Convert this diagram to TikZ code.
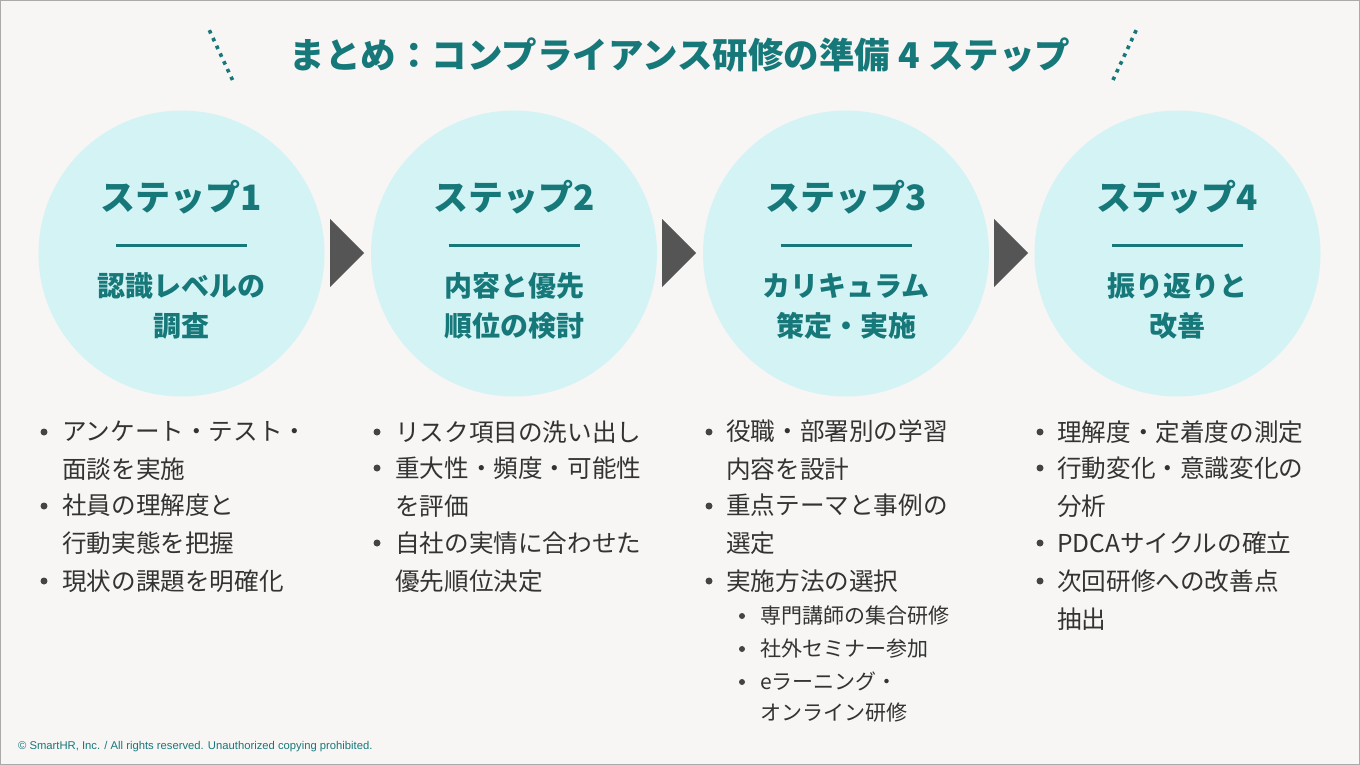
\documentclass[tikz,border=0pt]{standalone}
\usepackage{fontspec}
\setmainfont{Noto Sans CJK JP}
\newfontfamily\footfont{Liberation Sans}
\definecolor{bgc}{HTML}{F7F6F4}
\definecolor{tealc}{HTML}{17787A}
\definecolor{circc}{HTML}{D4F3F5}
\definecolor{txtc}{HTML}{333333}
\definecolor{arrc}{HTML}{555555}
\definecolor{dotc}{HTML}{444444}
\definecolor{framec}{HTML}{AAAAAA}
\tikzset{
  stepcircle/.style={circle, fill=circc, minimum size=286pt, inner sep=0},
  steptitle/.style={text=tealc, font=\fontsize{35}{35}\selectfont\bfseries, inner sep=0},
  stepsub/.style={text=tealc, font=\fontsize{28}{40}\selectfont\bfseries, align=center, inner sep=0},
  steprule/.style={draw=tealc, line width=3pt},
  arrowtri/.style={fill=arrc},
  item/.style={text=txtc, font=\fontsize{24.6}{37.4}\selectfont, align=left, anchor=base west, inner sep=0},
  subitem/.style={text=txtc, font=\fontsize{21}{30.5}\selectfont, align=left, anchor=base west, inner sep=0},
  bulletdot/.style={fill=dotc, circle, minimum size=7pt, inner sep=0},
  subdot/.style={fill=dotc, circle, minimum size=6pt, inner sep=0},
  titledots/.style={draw=tealc, line width=3.6pt, dash pattern=on 3.6pt off 4.97pt},
}
\begin{document}
\begin{tikzpicture}[x=1pt,y=-1pt]
\fill[bgc] (0,0) rectangle (1360,765);
\draw[framec, line width=1.2pt] (0.6,0.6) rectangle (1359.4,764.4);
\useasboundingbox (0,0) rectangle (1360,765);
% title
\node[text=tealc, font=\fontsize{35.5}{36}\selectfont\bfseries, inner sep=0] (title) at (680,55) {まとめ：コンプライアンス研修の準備 4 ステップ};
\coordinate (dl1) at (209.3,30.2); \coordinate (dl2) at (232.5,80);
\coordinate (dr1) at (1136.2,30.2); \coordinate (dr2) at (1113,80);
\draw[titledots] (dl1) -- (dl2);
\draw[titledots] (dr1) -- (dr2);
% circles
\foreach \i/\cx/\a/\b in {1/181.5/認識レベルの/調査, 2/514/内容と優先/順位の検討, 3/846/カリキュラム/策定・実施, 4/1177.5/振り返りと/改善}{
  \node[stepcircle] (c\i) at (\cx,253.5) {};
  \node[steptitle] (t\i) at (\cx,197) {ステップ\i};
  \draw[steprule] (\cx-65.5,245) -- (\cx+65.5,245);
  \node[stepsub] (s\i) at (\cx,306) {\a\\\b};
}
% arrows
\foreach \x in {330,662,994}{
  \fill[arrowtri] (\x,219) -- (\x+34,253) -- (\x,287) -- cycle;
}
% column 1 (node anchor = baseline of last line)
\node[bulletdot] (b11) at (44,432) {};
\node[item] (i11) at (62,478) {アンケート・テスト・\\面談を実施};
\node[bulletdot] (b12) at (44,506) {};
\node[item] (i12) at (62,552) {社員の理解度と\\行動実態を把握};
\node[bulletdot] (b13) at (44,581) {};
\node[item] (i13) at (62,590) {現状の課題を明確化};
% column 2
\node[bulletdot] (b21) at (377,432) {};
\node[item] (i21) at (395,441) {リスク項目の洗い出し};
\node[bulletdot] (b22) at (377,468) {};
\node[item] (i22) at (395,515) {重大性・頻度・可能性\\を評価};
\node[bulletdot] (b23) at (377,543) {};
\node[item] (i23) at (395,590) {自社の実情に合わせた\\優先順位決定};
% column 3
\node[bulletdot] (b31) at (709,432) {};
\node[item] (i31) at (726,478) {役職・部署別の学習\\内容を設計};
\node[bulletdot] (b32) at (709,506) {};
\node[item] (i32) at (726,552) {重点テーマと事例の\\選定};
\node[bulletdot] (b33) at (709,581) {};
\node[item] (i33) at (726,590) {実施方法の選択};
\node[subdot] (d31) at (742,616) {};
\node[subitem] (j31) at (760,623.5) {専門講師の集合研修};
\node[subdot] (d32) at (742,649) {};
\node[subitem] (j32) at (760,656.5) {社外セミナー参加};
\node[subdot] (d33) at (742,682) {};
\node[subitem] (j33) at (760,720) {eラーニング・\\オンライン研修};
% column 4
\node[bulletdot] (b41) at (1040,432) {};
\node[item] (i41) at (1057,441) {理解度・定着度の測定};
\node[bulletdot] (b42) at (1040,468) {};
\node[item] (i42) at (1057,515) {行動変化・意識変化の\\分析};
\node[bulletdot] (b43) at (1040,543) {};
\node[item] (i43) at (1057,552) {PDCAサイクルの確立};
\node[bulletdot] (b44) at (1040,581) {};
\node[item] (i44) at (1057,628) {次回研修への改善点\\抽出};
% footer
\node[text=tealc, font=\footfont\fontsize{11.25}{12}\selectfont, anchor=west, inner sep=0] (foot) at (18,747) {© SmartHR, Inc. / All rights reserved. Unauthorized copying prohibited.};
\end{tikzpicture}
\end{document}
